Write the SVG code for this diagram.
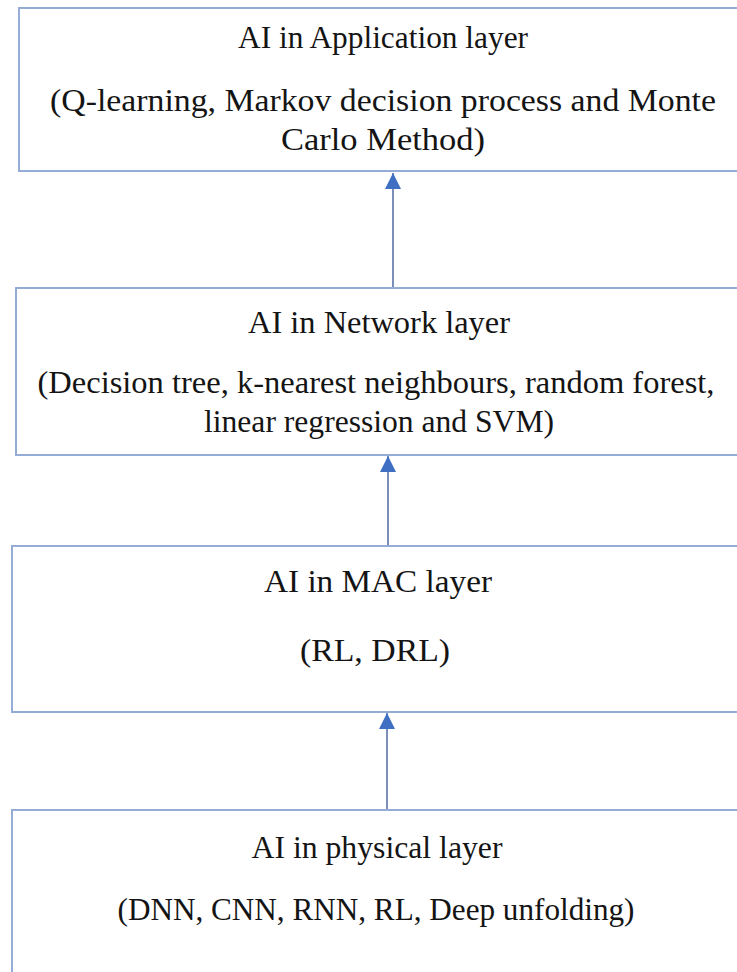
<svg xmlns="http://www.w3.org/2000/svg" width="737" height="972" viewBox="0 0 737 972">
  <style>
    .box { fill: #ffffff; stroke: #94acd6; stroke-width: 2; }
    .t { font-family: "Liberation Serif", "Times New Roman", serif; font-size: 32px; fill: #141414; text-anchor: middle; }
    .link { stroke: #5a74a8; stroke-width: 1.6; fill: none; marker-end: url(#head); }
  </style>
  <defs>
    <marker id="head" viewBox="0 0 10 10" refX="10" refY="5" markerWidth="16" markerHeight="16" markerUnits="userSpaceOnUse" orient="auto">
      <path d="M0,0 L10,5 L0,10 Z" fill="#3f6fc2"/>
    </marker>
  </defs>
  <rect width="737" height="972" fill="#ffffff"/>

  <g id="connectors">
    <line class="link" x1="393" y1="288" x2="393" y2="173"/>
    <line class="link" x1="388" y1="546" x2="388" y2="456"/>
    <line class="link" x1="387" y1="810" x2="387" y2="713"/>
  </g>

  <g id="application-layer">
    <rect class="box" x="19" y="8" width="740" height="163"/>
    <text class="t" x="383" y="48" textLength="290" lengthAdjust="spacingAndGlyphs">AI in Application layer</text>
    <text class="t" x="383" y="111" textLength="666" lengthAdjust="spacingAndGlyphs">(Q-learning, Markov decision process and Monte</text>
    <text class="t" x="383" y="150" textLength="204" lengthAdjust="spacingAndGlyphs">Carlo Method)</text>
  </g>

  <g id="network-layer">
    <rect class="box" x="16" y="288" width="740" height="167"/>
    <text class="t" x="379" y="333" textLength="262" lengthAdjust="spacingAndGlyphs">AI in Network layer</text>
    <text class="t" x="376" y="393" textLength="677" lengthAdjust="spacingAndGlyphs">(Decision tree, k-nearest neighbours, random forest,</text>
    <text class="t" x="379" y="432" textLength="350" lengthAdjust="spacingAndGlyphs">linear regression and SVM)</text>
  </g>

  <g id="mac-layer">
    <rect class="box" x="12" y="546" width="740" height="166"/>
    <text class="t" x="378" y="592" textLength="228" lengthAdjust="spacingAndGlyphs">AI in MAC layer</text>
    <text class="t" x="375" y="661" textLength="150" lengthAdjust="spacingAndGlyphs">(RL, DRL)</text>
  </g>

  <g id="physical-layer">
    <rect class="box" x="12" y="810" width="740" height="180"/>
    <text class="t" x="377" y="858" textLength="251" lengthAdjust="spacingAndGlyphs">AI in physical layer</text>
    <text class="t" x="376" y="920" textLength="517" lengthAdjust="spacingAndGlyphs">(DNN, CNN, RNN, RL, Deep unfolding)</text>
  </g>
</svg>
